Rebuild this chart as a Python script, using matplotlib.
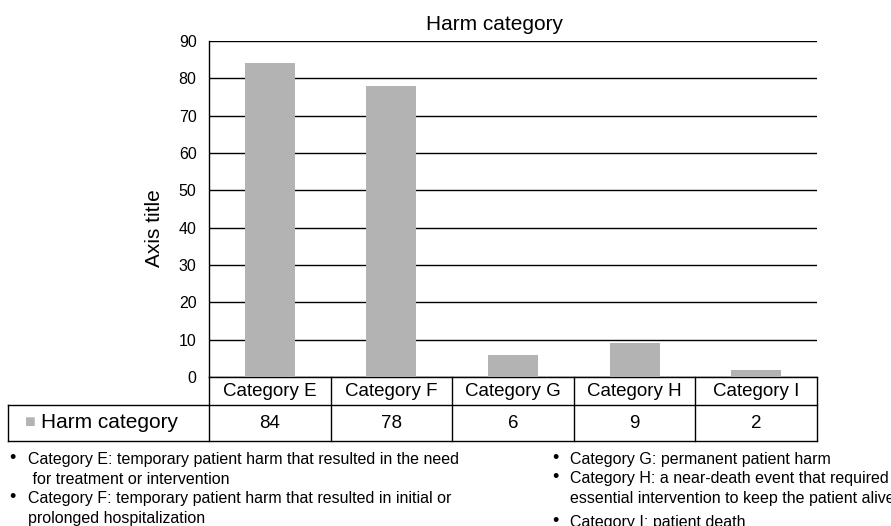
import matplotlib.pyplot as plt
from matplotlib.transforms import blended_transform_factory
import numpy as np

plt.rcParams['font.family'] = ['Liberation Sans', 'DejaVu Sans']

categories = ["Category E", "Category F", "Category G", "Category H", "Category I"]
counts = [84, 78, 6, 9, 2]
series_name = "Harm category"
yticks = [0, 10, 20, 30, 40, 50, 60, 70, 80, 90]

notes_left = [
    ["Category E: temporary patient harm that resulted in the need", " for treatment or intervention"],
    ["Category F: temporary patient harm that resulted in initial or", "prolonged hospitalization"],
]
notes_right = [
    ["Category G: permanent patient harm"],
    ["Category H: a near-death event that required", "essential intervention to keep the patient alive"],
    ["Category I: patient death"],
]

W, H = 891, 526
fig = plt.figure(figsize=(W / 100, H / 100), dpi=100)
ax = fig.add_axes([209 / W, 1 - 377 / H, (817 - 209) / W, (377 - 41) / H])

bar_color = "#b3b3b3"
x = np.arange(len(categories))
ax.bar(x, counts, width=0.41, color=bar_color, zorder=3)
ax.set_xlim(-0.5, len(categories) - 0.5)
ax.set_ylim(0, 90)
ax.set_yticks(yticks)
ax.set_yticklabels([str(t) for t in yticks], fontsize=11.5)
ax.set_xticks([])
ax.tick_params(axis="y", length=0, pad=9)
ax.grid(axis="y", color="black", linewidth=1, zorder=1)
for s in ["top", "right", "bottom"]:
    ax.spines[s].set_visible(False)
ax.spines["left"].set_linewidth(1)

fig.text(494 / W, 1 - 30 / H, "Harm category", fontsize=15, ha="center", va="baseline")
fig.text(155 / W, 1 - 228 / H, "Axis title", fontsize=15, ha="center", va="center",
         rotation=90)

# data table below the axis
tr = blended_transform_factory(ax.transData, ax.transAxes)
px = 1 / (377 - 41)
r0, r1, r2 = 0, -28 * px, -64 * px
left_x = -0.5 - (209 - 8) / 121.6
right_x = len(categories) - 0.5
lk = dict(color="black", linewidth=1, transform=tr, clip_on=False)
ax.plot([-0.5, right_x], [r0, r0], **lk)
ax.plot([left_x, right_x], [r1, r1], **lk)
ax.plot([left_x, right_x], [r2, r2], **lk)
ax.plot([left_x, left_x], [r1, r2], **lk)
for b in np.arange(-0.5, len(categories), 1.0):
    ax.plot([b, b], [r0, r2], **lk)

for i, (c, v) in enumerate(zip(categories, counts)):
    ax.text(i, (r0 + r1) / 2, c, transform=tr, ha="center", va="center", fontsize=13.5)
    ax.text(i, (r1 + r2) / 2, str(v), transform=tr, ha="center", va="center", fontsize=13.5)

ax.text(left_x + 17 / 121.6, (r1 + r2) / 2, "\u25a0", transform=tr, ha="left", va="center",
        fontsize=13, color=bar_color)
ax.text(left_x + 33 / 121.6, (r1 + r2) / 2, series_name, transform=tr, ha="left", va="center",
        fontsize=15)

# notes (baselines in pixels from the top)
def notes(items, x_bullet, x_text, baselines, step=19.5):
    for lines, yy in zip(items, baselines):
        fig.text(x_bullet / W, 1 - (yy - 1) / H, "\u2022", fontsize=13, va="baseline",
                 ha="left")
        for k, line in enumerate(lines):
            fig.text(x_text / W, 1 - (yy + step * k) / H, line, fontsize=11.5,
                     va="baseline", ha="left")

notes(notes_left, 9, 28, [464, 503])
notes(notes_right, 552, 570, [464, 483, 527])

fig.savefig("out.png", dpi=100)
